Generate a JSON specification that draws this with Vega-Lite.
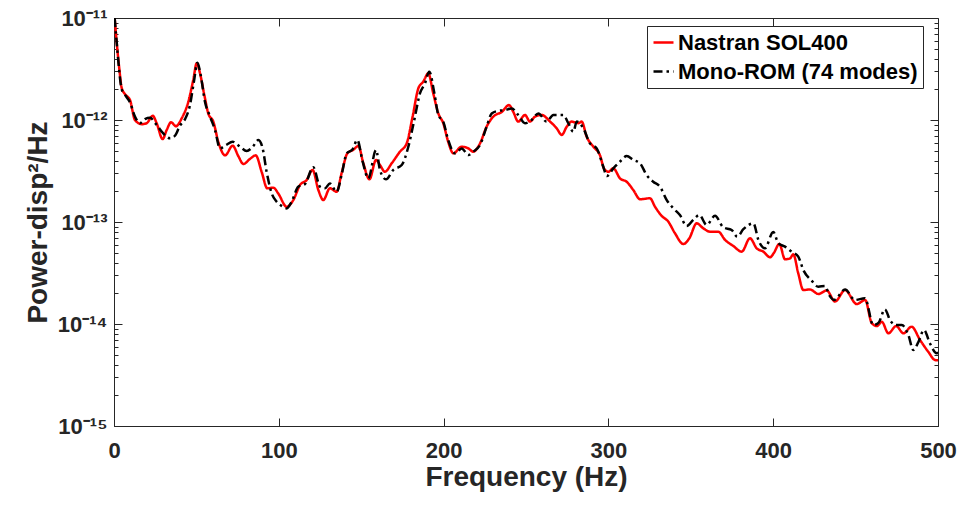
{
  "$schema": "https://vega.github.io/schema/vega-lite/v6.json",
  "autosize": {"type": "none"},
  "padding": {"left": 114, "top": 18, "right": 26, "bottom": 79},
  "width": 824,
  "height": 408,
  "background": "white",
  "config": {
    "font": "Liberation Sans",
    "view": {"stroke": "#262626", "strokeWidth": 1},
    "axis": {
      "grid": false,
      "labelFont": "Liberation Sans",
      "labelFontWeight": "bold",
      "labelFontSize": 22,
      "labelColor": "#262626",
      "titleFont": "Liberation Sans",
      "titleFontWeight": "bold",
      "titleFontSize": 28,
      "titleColor": "#262626",
      "tickColor": "#262626",
      "domainColor": "#262626",
      "tickWidth": 1
    }
  },
  "data": {"values": [
    {"f":0.4,"p":1.0e-11,"s":"N"},{"f":1.6,"p":5.86e-12,"s":"N"},{"f":3.2,"p":3.2e-12,"s":"N"},{"f":4.7,"p":2.05e-12,"s":"N"},{"f":6.7,"p":1.79e-12,"s":"N"},{"f":9.7,"p":1.57e-12,"s":"N"},{"f":12.7,"p":1.0e-12,"s":"N"},{"f":16.8,"p":9.1e-13,"s":"N"},{"f":19.8,"p":9.3e-13,"s":"N"},{"f":23.5,"p":1.10e-12,"s":"N"},{"f":25.9,"p":9.3e-13,"s":"N"},{"f":29.5,"p":6.5e-13,"s":"N"},{"f":32,"p":8.0e-13,"s":"N"},{"f":34.6,"p":9.5e-13,"s":"N"},{"f":37.6,"p":8.7e-13,"s":"N"},{"f":41.1,"p":1.04e-12,"s":"N"},{"f":45.1,"p":1.51e-12,"s":"N"},{"f":48.1,"p":2.47e-12,"s":"N"},{"f":50.2,"p":3.6e-12,"s":"N"},{"f":52.2,"p":2.87e-12,"s":"N"},{"f":54.8,"p":1.76e-12,"s":"N"},{"f":57.2,"p":1.16e-12,"s":"N"},{"f":60.3,"p":9.6e-13,"s":"N"},{"f":63.3,"p":6.1e-13,"s":"N"},{"f":67.4,"p":4.5e-13,"s":"N"},{"f":72,"p":5.6e-13,"s":"N"},{"f":75.5,"p":4.4e-13,"s":"N"},{"f":78.5,"p":3.7e-13,"s":"N"},{"f":82.5,"p":4.15e-13,"s":"N"},{"f":86,"p":4.5e-13,"s":"N"},{"f":89.6,"p":3.1e-13,"s":"N"},{"f":93,"p":2.14e-13,"s":"N"},{"f":96.7,"p":2.17e-13,"s":"N"},{"f":99.7,"p":1.9e-13,"s":"N"},{"f":104.8,"p":1.41e-13,"s":"N"},{"f":108.8,"p":1.64e-13,"s":"N"},{"f":112.9,"p":2.31e-13,"s":"N"},{"f":116.9,"p":2.58e-13,"s":"N"},{"f":120.5,"p":3.24e-13,"s":"N"},{"f":124,"p":2.06e-13,"s":"N"},{"f":127,"p":1.64e-13,"s":"N"},{"f":131,"p":2.14e-13,"s":"N"},{"f":135.1,"p":1.98e-13,"s":"N"},{"f":138.1,"p":3.0e-13,"s":"N"},{"f":141.6,"p":4.7e-13,"s":"N"},{"f":145.2,"p":5.1e-13,"s":"N"},{"f":148.3,"p":5.56e-13,"s":"N"},{"f":151.3,"p":3.76e-13,"s":"N"},{"f":155,"p":2.62e-13,"s":"N"},{"f":159,"p":4.06e-13,"s":"N"},{"f":161.4,"p":3.62e-13,"s":"N"},{"f":164.4,"p":3.11e-13,"s":"N"},{"f":168.5,"p":3.76e-13,"s":"N"},{"f":173.5,"p":4.89e-13,"s":"N"},{"f":177.6,"p":5.9e-13,"s":"N"},{"f":181.2,"p":1.08e-12,"s":"N"},{"f":184.7,"p":2.05e-12,"s":"N"},{"f":187.7,"p":2.38e-12,"s":"N"},{"f":190.7,"p":2.87e-12,"s":"N"},{"f":193.7,"p":1.83e-12,"s":"N"},{"f":196.8,"p":1.16e-12,"s":"N"},{"f":199.8,"p":9.3e-13,"s":"N"},{"f":202.8,"p":6.1e-13,"s":"N"},{"f":205.9,"p":4.71e-13,"s":"N"},{"f":211,"p":5.47e-13,"s":"N"},{"f":215,"p":5.27e-13,"s":"N"},{"f":218,"p":4.89e-13,"s":"N"},{"f":222.1,"p":5.9e-13,"s":"N"},{"f":226.1,"p":8.6e-13,"s":"N"},{"f":230.2,"p":1.08e-12,"s":"N"},{"f":235.3,"p":1.2e-12,"s":"N"},{"f":239.7,"p":1.4e-12,"s":"N"},{"f":242.3,"p":1.2e-12,"s":"N"},{"f":245.3,"p":9.64e-13,"s":"N"},{"f":249.4,"p":1.12e-12,"s":"N"},{"f":252.4,"p":9.64e-13,"s":"N"},{"f":255.5,"p":1.08e-12,"s":"N"},{"f":259.5,"p":1.12e-12,"s":"N"},{"f":264.6,"p":9.64e-13,"s":"N"},{"f":268.6,"p":8.3e-13,"s":"N"},{"f":271.7,"p":7.13e-13,"s":"N"},{"f":274.7,"p":8.6e-13,"s":"N"},{"f":277.7,"p":9.64e-13,"s":"N"},{"f":281.8,"p":9.3e-13,"s":"N"},{"f":283.8,"p":9.64e-13,"s":"N"},{"f":286.8,"p":6.86e-13,"s":"N"},{"f":290.9,"p":5.47e-13,"s":"N"},{"f":294.9,"p":4.5e-13,"s":"N"},{"f":297.5,"p":3.3e-13,"s":"N"},{"f":300,"p":3.11e-13,"s":"N"},{"f":303,"p":3.36e-13,"s":"N"},{"f":307,"p":2.68e-13,"s":"N"},{"f":311.1,"p":2.48e-13,"s":"N"},{"f":315.1,"p":2.06e-13,"s":"N"},{"f":319.2,"p":1.67e-13,"s":"N"},{"f":325.2,"p":1.71e-13,"s":"N"},{"f":328.3,"p":1.41e-13,"s":"N"},{"f":332.3,"p":1.15e-13,"s":"N"},{"f":336.3,"p":1.01e-13,"s":"N"},{"f":340.4,"p":7.75e-14,"s":"N"},{"f":345.5,"p":6.08e-14,"s":"N"},{"f":349.1,"p":6.92e-14,"s":"N"},{"f":353.6,"p":9.7e-14,"s":"N"},{"f":357.6,"p":8.67e-14,"s":"N"},{"f":361.7,"p":8.03e-14,"s":"N"},{"f":366.7,"p":8.03e-14,"s":"N"},{"f":370.8,"p":6.67e-14,"s":"N"},{"f":375.8,"p":5.82e-14,"s":"N"},{"f":380.9,"p":5.12e-14,"s":"N"},{"f":385.9,"p":6.92e-14,"s":"N"},{"f":390,"p":5.52e-14,"s":"N"},{"f":394,"p":5.12e-14,"s":"N"},{"f":398.1,"p":4.51e-14,"s":"N"},{"f":400.5,"p":5.0e-14,"s":"N"},{"f":403.7,"p":6.1e-14,"s":"N"},{"f":407.2,"p":4.31e-14,"s":"N"},{"f":410.2,"p":4.4e-14,"s":"N"},{"f":412.2,"p":4.82e-14,"s":"N"},{"f":415.2,"p":3.14e-14,"s":"N"},{"f":418.3,"p":2.15e-14,"s":"N"},{"f":422.3,"p":2.18e-14,"s":"N"},{"f":427.4,"p":1.97e-14,"s":"N"},{"f":432.5,"p":2.13e-14,"s":"N"},{"f":437.5,"p":1.66e-14,"s":"N"},{"f":443.6,"p":2.15e-14,"s":"N"},{"f":450.7,"p":1.57e-14,"s":"N"},{"f":455.8,"p":1.72e-14,"s":"N"},{"f":459.8,"p":1.02e-14,"s":"N"},{"f":462.9,"p":9.55e-15,"s":"N"},{"f":465.9,"p":1.05e-14,"s":"N"},{"f":469.9,"p":8.11e-15,"s":"N"},{"f":474.6,"p":9.55e-15,"s":"N"},{"f":479,"p":8.11e-15,"s":"N"},{"f":484,"p":9.4e-15,"s":"N"},{"f":489.1,"p":6.97e-15,"s":"N"},{"f":494.1,"p":5.34e-15,"s":"N"},{"f":498.2,"p":4.43e-15,"s":"N"},{"f":500,"p":4.4e-15,"s":"N"},
    {"f":0.4,"p":1.0e-11,"s":"M"},{"f":1.6,"p":5.86e-12,"s":"M"},{"f":4.7,"p":2.0e-12,"s":"M"},{"f":6.7,"p":1.76e-12,"s":"M"},{"f":9.7,"p":1.49e-12,"s":"M"},{"f":12.7,"p":1.08e-12,"s":"M"},{"f":15.8,"p":9.3e-13,"s":"M"},{"f":18.8,"p":1.02e-12,"s":"M"},{"f":21.8,"p":1.05e-12,"s":"M"},{"f":25.9,"p":8.93e-13,"s":"M"},{"f":29.9,"p":7.4e-13,"s":"M"},{"f":34,"p":6.61e-13,"s":"M"},{"f":37,"p":7.01e-13,"s":"M"},{"f":40,"p":8.8e-13,"s":"M"},{"f":43.1,"p":1.02e-12,"s":"M"},{"f":46.1,"p":1.4e-12,"s":"M"},{"f":48.5,"p":2.38e-12,"s":"M"},{"f":50.6,"p":3.65e-12,"s":"M"},{"f":52.6,"p":2.76e-12,"s":"M"},{"f":55.2,"p":1.51e-12,"s":"M"},{"f":58.3,"p":1.08e-12,"s":"M"},{"f":61.3,"p":7.97e-13,"s":"M"},{"f":64.3,"p":5.27e-13,"s":"M"},{"f":68,"p":5.69e-13,"s":"M"},{"f":72,"p":6.12e-13,"s":"M"},{"f":76.5,"p":5.47e-13,"s":"M"},{"f":80.5,"p":4.97e-13,"s":"M"},{"f":84.2,"p":5.47e-13,"s":"M"},{"f":87.6,"p":6.37e-13,"s":"M"},{"f":90.2,"p":5.27e-13,"s":"M"},{"f":92.6,"p":3.11e-13,"s":"M"},{"f":95.7,"p":1.91e-13,"s":"M"},{"f":98.7,"p":1.58e-13,"s":"M"},{"f":101.7,"p":1.44e-13,"s":"M"},{"f":104.8,"p":1.36e-13,"s":"M"},{"f":107.8,"p":1.58e-13,"s":"M"},{"f":111.8,"p":2.22e-13,"s":"M"},{"f":115.9,"p":2.36e-13,"s":"M"},{"f":120.9,"p":3.44e-13,"s":"M"},{"f":125,"p":2.22e-13,"s":"M"},{"f":128,"p":2.14e-13,"s":"M"},{"f":131,"p":2.39e-13,"s":"M"},{"f":135.1,"p":1.98e-13,"s":"M"},{"f":138.1,"p":2.89e-13,"s":"M"},{"f":141.2,"p":4.71e-13,"s":"M"},{"f":144.8,"p":5.16e-13,"s":"M"},{"f":147.6,"p":6.37e-13,"s":"M"},{"f":150.9,"p":3.9e-13,"s":"M"},{"f":154.3,"p":2.68e-13,"s":"M"},{"f":159,"p":5.08e-13,"s":"M"},{"f":161.4,"p":3.24e-13,"s":"M"},{"f":165,"p":2.62e-13,"s":"M"},{"f":169.5,"p":3.24e-13,"s":"M"},{"f":174.6,"p":3.62e-13,"s":"M"},{"f":178.6,"p":5.47e-13,"s":"M"},{"f":182,"p":9.64e-13,"s":"M"},{"f":185.7,"p":1.83e-12,"s":"M"},{"f":188.7,"p":2.29e-12,"s":"M"},{"f":191.3,"p":2.98e-12,"s":"M"},{"f":194.4,"p":1.83e-12,"s":"M"},{"f":196.8,"p":1.12e-12,"s":"M"},{"f":199.8,"p":9.64e-13,"s":"M"},{"f":202.8,"p":6.37e-13,"s":"M"},{"f":206.9,"p":4.71e-13,"s":"M"},{"f":211,"p":5.27e-13,"s":"M"},{"f":215,"p":4.54e-13,"s":"M"},{"f":218,"p":4.89e-13,"s":"M"},{"f":222.1,"p":5.69e-13,"s":"M"},{"f":226.1,"p":8.6e-13,"s":"M"},{"f":229.2,"p":1.16e-12,"s":"M"},{"f":233.2,"p":1.23e-12,"s":"M"},{"f":237.3,"p":1.25e-12,"s":"M"},{"f":241.3,"p":1.3e-12,"s":"M"},{"f":245.3,"p":1.12e-12,"s":"M"},{"f":249.4,"p":9.3e-13,"s":"M"},{"f":253.4,"p":1.0e-12,"s":"M"},{"f":257.5,"p":1.16e-12,"s":"M"},{"f":262.5,"p":9.64e-13,"s":"M"},{"f":266.6,"p":1.12e-12,"s":"M"},{"f":272.6,"p":1.12e-12,"s":"M"},{"f":275.7,"p":9.3e-13,"s":"M"},{"f":278.7,"p":7.67e-13,"s":"M"},{"f":280.8,"p":9.64e-13,"s":"M"},{"f":284.8,"p":8.3e-13,"s":"M"},{"f":288.8,"p":5.9e-13,"s":"M"},{"f":292.9,"p":5.27e-13,"s":"M"},{"f":296.9,"p":3.48e-13,"s":"M"},{"f":299,"p":2.82e-13,"s":"M"},{"f":303,"p":3.36e-13,"s":"M"},{"f":307,"p":3.9e-13,"s":"M"},{"f":311.1,"p":4.43e-13,"s":"M"},{"f":315.1,"p":4.06e-13,"s":"M"},{"f":319.2,"p":3.76e-13,"s":"M"},{"f":323.2,"p":2.89e-13,"s":"M"},{"f":327.2,"p":2.48e-13,"s":"M"},{"f":331.3,"p":2.22e-13,"s":"M"},{"f":335.4,"p":1.64e-13,"s":"M"},{"f":339.4,"p":1.36e-13,"s":"M"},{"f":343.4,"p":1.17e-13,"s":"M"},{"f":347.5,"p":9.14e-14,"s":"M"},{"f":351.5,"p":1.05e-13,"s":"M"},{"f":355.2,"p":1.17e-13,"s":"M"},{"f":359.6,"p":9.35e-14,"s":"M"},{"f":364.7,"p":1.15e-13,"s":"M"},{"f":369.7,"p":8.87e-14,"s":"M"},{"f":374.8,"p":8.35e-14,"s":"M"},{"f":378.2,"p":7.18e-14,"s":"M"},{"f":381.9,"p":8.5e-14,"s":"M"},{"f":388,"p":9.7e-14,"s":"M"},{"f":391,"p":6.67e-14,"s":"M"},{"f":395,"p":5.52e-14,"s":"M"},{"f":400,"p":8.0e-14,"s":"M"},{"f":403.1,"p":6.2e-14,"s":"M"},{"f":407.2,"p":5.73e-14,"s":"M"},{"f":411.2,"p":5.12e-14,"s":"M"},{"f":415.2,"p":4.58e-14,"s":"M"},{"f":418.3,"p":3.38e-14,"s":"M"},{"f":423.3,"p":2.66e-14,"s":"M"},{"f":427.4,"p":2.32e-14,"s":"M"},{"f":431.4,"p":2.36e-14,"s":"M"},{"f":434,"p":1.92e-14,"s":"M"},{"f":436.9,"p":1.72e-14,"s":"M"},{"f":443.6,"p":2.18e-14,"s":"M"},{"f":449.6,"p":1.72e-14,"s":"M"},{"f":455.7,"p":1.79e-14,"s":"M"},{"f":460.7,"p":9.77e-15,"s":"M"},{"f":463.8,"p":1.02e-14,"s":"M"},{"f":467.8,"p":1.39e-14,"s":"M"},{"f":470.9,"p":1.09e-14,"s":"M"},{"f":474.5,"p":9.77e-15,"s":"M"},{"f":478,"p":9.77e-15,"s":"M"},{"f":482,"p":7.8e-15,"s":"M"},{"f":485,"p":5.56e-15,"s":"M"},{"f":488,"p":6.6e-15,"s":"M"},{"f":491.5,"p":8.73e-15,"s":"M"},{"f":495.1,"p":6.46e-15,"s":"M"},{"f":499.2,"p":5.16e-15,"s":"M"},{"f":500,"p":5.3e-15,"s":"M"}
  ]},
  "resolve": {"axis": {"x": "independent", "y": "independent"}},
  "layer": [
    {
      "mark": {"type": "line", "strokeWidth": 2.5, "interpolate": "monotone", "clip": true},
      "encoding": {
        "x": {"field": "f", "type": "quantitative",
              "scale": {"domain": [0, 500], "nice": false, "zero": false},
              "axis": {"orient": "bottom", "title": "Frequency (Hz)", "values": [0, 100, 200, 300, 400, 500],
                       "tickSize": -8, "labelPadding": 22, "titlePadding": 2, "labelFlush": false}},
        "y": {"field": "p", "type": "quantitative",
              "scale": {"type": "log", "domain": [1e-15, 1e-11], "nice": false},
              "axis": {"orient": "left", "title": "Power-disp²/Hz", "values": [1e-15, 1e-14, 1e-13, 1e-12, 1e-11],
                       "tickSize": -8, "labelPadding": 15, "titlePadding": 5, "labelFlush": false,
                       "labelExpr": "datum.value < 5e-15 ? '10⁻¹⁵' : datum.value < 5e-14 ? '10⁻¹⁴' : datum.value < 5e-13 ? '10⁻¹³' : datum.value < 5e-12 ? '10⁻¹²' : '10⁻¹¹'"}},
        "color": {"field": "s", "type": "nominal",
                  "scale": {"domain": ["N", "M"], "range": ["#ff0000", "#000000"]},
                  "legend": {"title": null, "orient": "none", "legendX": 533, "legendY": 8,
                             "labelExpr": "datum.label == 'N' ? 'Nastran SOL400' : 'Mono-ROM (74 modes)'",
                             "labelFont": "Liberation Sans", "labelFontWeight": "bold", "labelFontSize": 22, "labelColor": "#000000",
                             "symbolType": "stroke", "symbolSize": 400, "symbolStrokeWidth": 2.5,
                             "fillColor": "white", "strokeColor": "#262626", "padding": 5, "rowPadding": 6, "labelOffset": 3, "labelLimit": 400}},
        "strokeDash": {"field": "s", "type": "nominal",
                       "scale": {"domain": ["N", "M"], "range": [[1, 0], [9, 4, 2.5, 4]]},
                       "legend": {"title": null}}
      }
    },
    {
      "mark": {"type": "point", "opacity": 0},
      "encoding": {
        "x": {"field": "f", "type": "quantitative",
              "axis": {"orient": "top", "title": null, "values": [100, 200, 300, 400], "labels": false, "tickSize": -8, "domain": false}},
        "y": {"field": "p", "type": "quantitative",
              "axis": {"orient": "right", "title": null, "values": [1e-15, 1e-14, 1e-13, 1e-12, 1e-11], "labels": false, "tickSize": -8, "domain": false}}
      }
    },
    {
      "mark": {"type": "point", "opacity": 0},
      "encoding": {
        "x": {"field": "f", "type": "quantitative", "axis": null},
        "y": {"field": "p", "type": "quantitative",
              "axis": {"orient": "left", "title": null, "labels": false, "tickSize": -4, "domain": false,
                       "values": [2e-15,3e-15,4e-15,5e-15,6e-15,7e-15,8e-15,9e-15,2e-14,3e-14,4e-14,5e-14,6e-14,7e-14,8e-14,9e-14,2e-13,3e-13,4e-13,5e-13,6e-13,7e-13,8e-13,9e-13,2e-12,3e-12,4e-12,5e-12,6e-12,7e-12,8e-12,9e-12]}}
      }
    },
    {
      "mark": {"type": "point", "opacity": 0},
      "encoding": {
        "x": {"field": "f", "type": "quantitative", "axis": null},
        "y": {"field": "p", "type": "quantitative",
              "axis": {"orient": "right", "title": null, "labels": false, "tickSize": -4, "domain": false,
                       "values": [2e-15,3e-15,4e-15,5e-15,6e-15,7e-15,8e-15,9e-15,2e-14,3e-14,4e-14,5e-14,6e-14,7e-14,8e-14,9e-14,2e-13,3e-13,4e-13,5e-13,6e-13,7e-13,8e-13,9e-13,2e-12,3e-12,4e-12,5e-12,6e-12,7e-12,8e-12,9e-12]}}
      }
    }
  ]
}
